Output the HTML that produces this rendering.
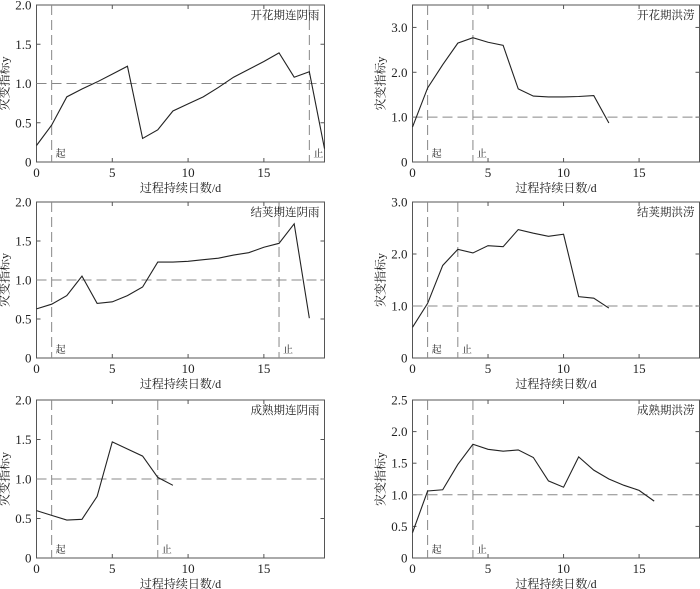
<!DOCTYPE html>
<html><head><meta charset="utf-8"><style>
html,body{margin:0;padding:0;background:#fff;width:700px;height:589px;overflow:hidden}
svg text{font-family:"Liberation Serif","Noto Serif CJK SC",serif;fill:#222}
</style></head><body>
<svg id="chart" width="700" height="589" viewBox="0 0 700 589" xmlns="http://www.w3.org/2000/svg"></svg>
<script>
const xs1 = [0,1,2,3,4,5,6,7,8,9,10,11,12,13,14,15,16,17,18,19];
const vals1 = [0.21,0.47,0.83,0.93,1.02,1.12,1.22,0.30,0.41,0.65,0.74,0.83,0.95,1.08,1.18,1.28,1.39,1.08,1.15,0.17];
const vals2 = [0.78,1.65,2.17,2.65,2.77,2.67,2.60,1.63,1.47,1.45,1.45,1.46,1.48,0.87];
const vals3 = [0.63,0.69,0.80,1.05,0.70,0.72,0.80,0.91,1.23,1.23,1.24,1.26,1.28,1.32,1.35,1.42,1.47,1.72,0.51];
const vals4 = [0.59,1.05,1.78,2.09,2.02,2.16,2.14,2.47,2.40,2.34,2.38,1.18,1.15,0.96];
const vals5 = [0.60,0.54,0.48,0.49,0.78,1.47,1.38,1.29,1.02,0.92];
const vals6 = [0.40,1.06,1.08,1.48,1.80,1.72,1.69,1.71,1.59,1.22,1.12,1.60,1.39,1.25,1.15,1.07,0.90];
const titles = ["开花期连阴雨","开花期洪涝","结荚期连阴雨","结荚期洪涝","成熟期连阴雨","成熟期洪涝"];
const startDays = [1,1,1,1,1,1];
const endDays = [18,4,16,3,8,4];
const yMaxes = [2,3.5,2,3,2,2.5];
const yTickSets = [[0,0.5,1,1.5,2],[0,1,2,3],[0,0.5,1,1.5,2],[0,1,2,3],[0,0.5,1,1.5,2],[0,0.5,1,1.5,2,2.5]];
const yTickLabels = [["0","0.5","1.0","1.5","2.0"],["0","1.0","2.0","3.0"],["0","0.5","1.0","1.5","2.0"],["0","1.0","2.0","3.0"],["0","0.5","1.0","1.5","2.0"],["0","0.5","1.0","1.5","2.0","2.5"]];
const xTicks = [0,5,10,15];
const series = [vals1,vals2,vals3,vals4,vals5,vals6];

const NS="http://www.w3.org/2000/svg";
const svg=document.getElementById('chart');
function mk(tag,attrs,parent){const e=document.createElementNS(NS,tag);for(const k in attrs)e.setAttribute(k,attrs[k]);(parent||svg).appendChild(e);return e;}

const cols=[{x0:36.5,x1:324.5},{x0:412.5,x1:699.5}];
const rows=[{t:5,b:162},{t:202,b:358},{t:400,b:558}];

for(let i=0;i<6;i++){
  const c=cols[i%2], r=rows[Math.floor(i/2)];
  const g=mk('g',{});
  
  
  const sx=v=>c.x0+(c.x1-c.x0)*v/19;
  const sy=v=>r.b-(r.b-r.t)*v/yMaxes[i];
  // box
  const box=mk('rect',{x:c.x0,y:r.t,width:c.x1-c.x0,height:r.b-r.t,fill:'none',stroke:'#555','stroke-width':1},g);
  
  
  // y ticks
  yTickSets[i].forEach((v,k)=>{
    const y=sy(v);
    mk('line',{x1:c.x0,x2:c.x0+4,y1:y,y2:y,stroke:'#555'},g);
    mk('line',{x1:c.x1,x2:c.x1-4,y1:y,y2:y,stroke:'#555'},g);
    const t=mk('text',{x:c.x0-5,y:y+4.5,'text-anchor':'end','font-size':13},g);
    t.textContent=yTickLabels[i][k];
    
    
  });
  xTicks.forEach(v=>{
    const x=sx(v);
    mk('line',{x1:x,x2:x,y1:r.b,y2:r.b-4,stroke:'#555'},g);
    mk('line',{x1:x,x2:x,y1:r.t,y2:r.t+4,stroke:'#555'},g);
    const t=mk('text',{x:x,y:r.b+15,'text-anchor':'middle','font-size':13},g);
    t.textContent=String(v);
    
    
  });
  // threshold
  const th=mk('line',{x1:c.x0,x2:c.x1,y1:sy(1),y2:sy(1),stroke:'#888','stroke-dasharray':'10,5'},g);
  
  
  // start/end
  [[startDays[i],'起','start'],[endDays[i],'止','end']].forEach(([d,lab,nm])=>{
    const x=sx(d);
    const l=mk('line',{x1:x,x2:x,y1:r.t,y2:r.b,stroke:'#888','stroke-dasharray':'10,5'},g);
    
    
    const t=mk('text',{x:x+4,y:r.b-5,'font-size':10,fill:'#444'},g);
    t.textContent=lab;
    
    
  });
  // series
  const pts=series[i].map((v,k)=>sx(xs1[k])+','+sy(v)).join(' ');
  const pl=mk('polyline',{points:pts,fill:'none',stroke:'#222','stroke-width':1.1},g);
  
  
  // title
  const tt=mk('text',{x:c.x1-5,y:r.t+14,'text-anchor':'end','font-size':11.5},g);
  tt.textContent=titles[i];
  
  
  // axis titles
  const xl=mk('text',{x:(c.x0+c.x1)/2,y:r.b+30,'text-anchor':'middle','font-size':12},g);
  xl.textContent='过程持续日数/d';
  
  
  const yc=(r.t+r.b)/2, yx=c.x0-28;
  const yl=mk('text',{x:yx,y:yc,'text-anchor':'middle','font-size':12,transform:`rotate(-90 ${yx} ${yc})`},g);
  yl.textContent='灾变指标y';
  
  
}
</script>
</body></html>
